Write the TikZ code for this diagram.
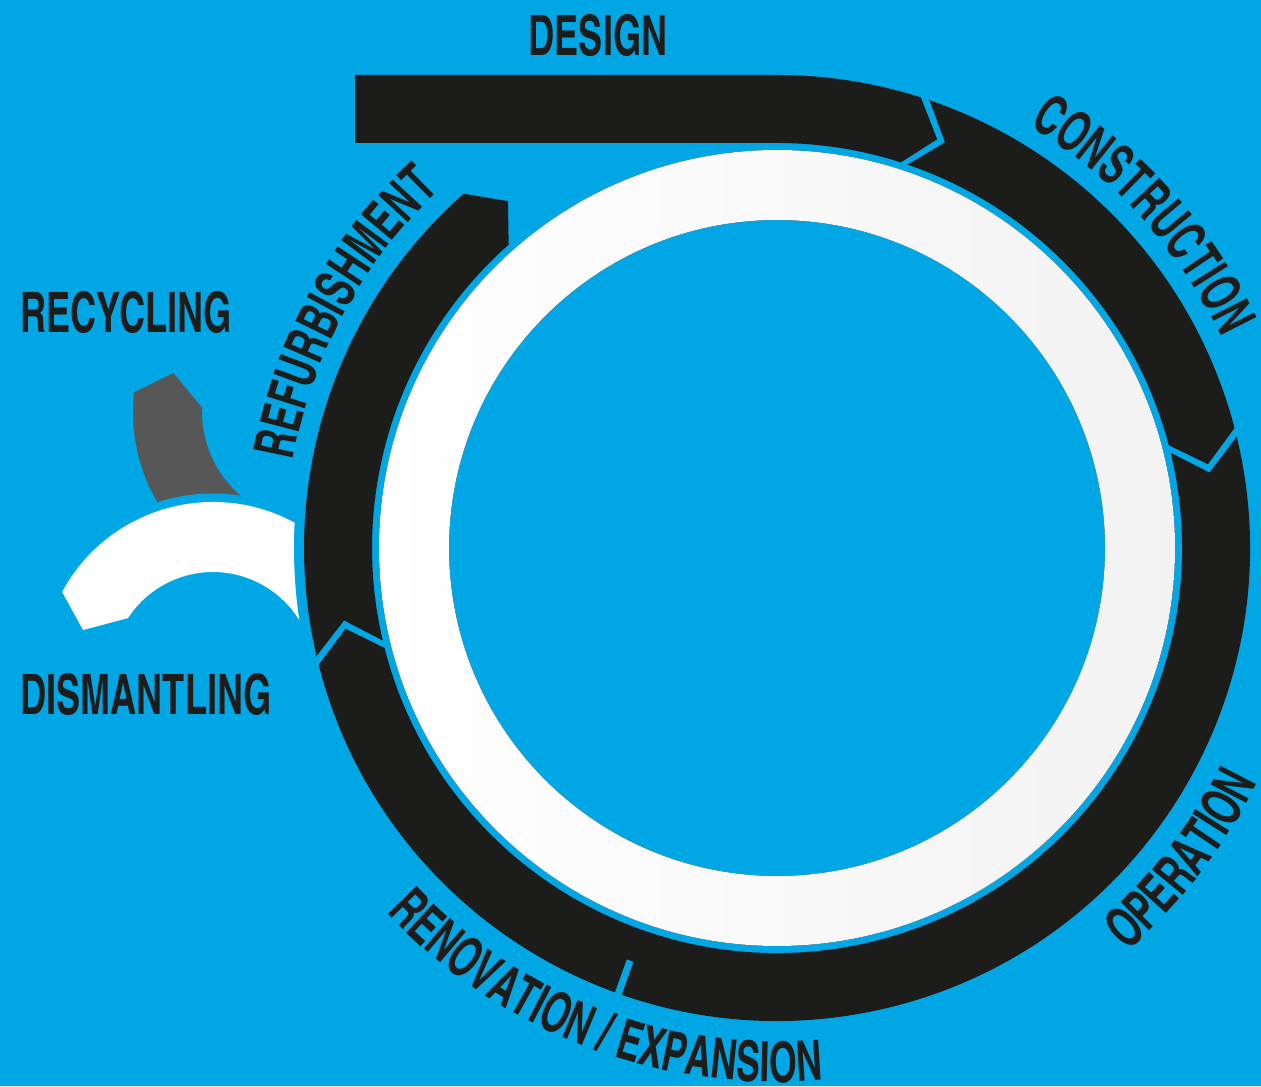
\documentclass[tikz,border=0pt]{standalone}
\usepackage{fontspec}
\usetikzlibrary{decorations.text}
\newfontfamily\stagefont[FakeStretch=0.79]{texgyreheroscn-bold.otf}
\newcommand{\stagetext}{\stagefont\fontsize{27.9}{30}\selectfont}
\definecolor{skyblue}{RGB}{0,167,228}
\definecolor{ink}{RGB}{28,28,27}
\definecolor{slate}{RGB}{87,87,87}
% one black band piece between two angles, notched start and pointed end
\newcommand{\ringseg}[2]{(#1:473) arc[start angle=#1, end angle=#2, radius=473]
    -- ({#2-3.7}:439) -- (#2:405) arc[start angle=#2, end angle=#1, radius=405]
    -- ({#1-3.7}:439) -- cycle}

\begin{document}
\begin{tikzpicture}[x=0.5pt, y=0.5pt,
        stage/.style={font=\stagetext, text=ink, inner sep=0pt},
        curved/.style={decorate, decoration={text along path, text={|\stagetext|#1},
            text color=ink, text align=center}}]
    \useasboundingbox (0,0) rectangle (1261,1086);
    \fill[skyblue] (0,0) rectangle (1261,1086);

    \coordinate (C) at (777,538);
    \coordinate (D) at (213,412.5);
    \coordinate (G) at (312,674);

    \begin{scope}[shift={(G)}]
        \fill[slate] (173.7:179) -- (164.3:144) -- (177.8:110)
            arc[start angle=177.8, end angle=240, radius=110]
            -- (240:179) arc[start angle=240, end angle=173.7, radius=179] -- cycle;
    \end{scope}
    \fill[skyblue] (D) circle[radius=180];
    \begin{scope}[shift={(D)}]
        \fill[white] (151.6:171.5) arc[start angle=151.6, end angle=15, radius=171.5]
            -- (15:101.5) arc[start angle=15, end angle=146.9, radius=101.5]
            -- (161.5:137) -- cycle;
    \end{scope}
    \fill[skyblue] (C) circle[radius=483];

    \begin{scope}[shift={(C)}]
        \fill[ink] (-422,473) -- (0,473) arc[start angle=90, end angle=72.3, radius=473]
            -- (68.6:439) -- (72.2:405) arc[start angle=72.2, end angle=90, radius=405]
            -- (-422,405) -- cycle;
        \fill[ink] \ringseg{71.2}{14.7};
        \fill[ink] \ringseg{13.6}{-165.7};
        \fill[ink] \ringseg{193.2}{131.5};
        \draw[skyblue, line width=3.5pt] (-109.6:438) -- (-109.6:480);

        \fill[left color=white, middle color=white, right color=black!5, even odd rule]
            (0,0) circle[radius=398] (0,0) circle[radius=328];

        \path[curved=CONSTRUCTION] (70:492) arc[start angle=70, end angle=14.5, radius=492];
        \path[curved=OPERATION] (-62.5:534) arc[start angle=-62.5, end angle=-12.5, radius=534];
        \path[curved={RENOVATION / EXPANSION}] (-165:534) arc[start angle=-165, end angle=-57, radius=534];
        \path[curved=REFURBISHMENT] (185:492) arc[start angle=185, end angle=118, radius=492];
    \end{scope}

    \node[stage] (design) at (598,1051) {DESIGN};
    \node[stage, anchor=west] (recycling) at (20,774) {RECYCLING};
    \node[stage, anchor=west] (dismantling) at (20,392) {DISMANTLING};
\end{tikzpicture}
\end{document}
